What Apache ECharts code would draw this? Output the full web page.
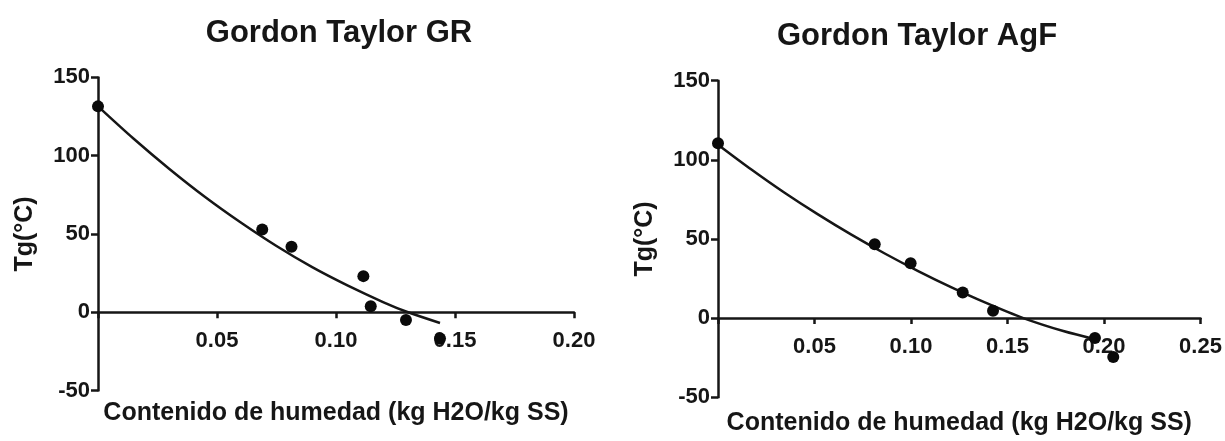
<!DOCTYPE html>
<html>
<head>
<meta charset="utf-8">
<script src="https://cdn.jsdelivr.net/npm/echarts@6/dist/echarts.min.js"></script>
<style>
html,body{margin:0;padding:0;background:#fff;}
#c{width:1225px;height:441px;}
</style>
</head>
<body>
<div id="c"></div>
<script>
// ---- data ----
var titles = ['Gordon Taylor GR', 'Gordon Taylor AgF'];
var xName = 'Contenido de humedad (kg H2O/kg SS)';
var yName = 'Tg(°C)';
var yTicks = [-50, 0, 50, 100, 150];
var xTicksGR = [0.05, 0.10, 0.15, 0.20];
var xTicksAgF = [0.05, 0.10, 0.15, 0.20, 0.25];

// Gordon Taylor GR: measured points [moisture, Tg]
var pointsGR = [[0, 131.5], [0.0690, 52.8], [0.0813, 41.9], [0.1115, 23.1], [0.1146, 3.8], [0.1294, -4.9], [0.1437, -16.8]];
// fitted curve
var curveGR = [[0, 131.5], [0.015, 110.8], [0.03, 91.5], [0.045, 73.6], [0.06, 57.3], [0.075, 42.3], [0.09, 28.8], [0.105, 17], [0.12, 6.4], [0.13, 0.2], [0.1437, -6.8]];

// Gordon Taylor AgF
var pointsAgF = [[0, 110.5], [0.0812, 46.6], [0.0998, 34.6], [0.1268, 16.1], [0.1425, 4.7], [0.1953, -12.6], [0.2048, -24.6]];
var curveAgF = [[0, 109.6], [0.0173, 93.9], [0.0345, 79.2], [0.0518, 65.5], [0.0691, 52.7], [0.0864, 40.8], [0.1037, 29.7], [0.121, 19.4], [0.1383, 9.9], [0.1582, 0], [0.1789, -8.2], [0.1962, -13.6]];

// ---- chart ----
var INK = '#161616';
var FONT = '"Liberation Sans", Arial, sans-serif';
var grids = [
  {left: 98, top: 77.4, width: 476, height: 313.2},
  {left: 718, top: 80.7, width: 482.5, height: 316.5}
];
var nameGaps = [88, 93];
var yMin = yTicks[0], yMax = yTicks[yTicks.length - 1];

function xAxis(idx, ticks) {
  // place the axis on the y = 0 line (line, ticks, labels and name together)
  var zeroOffset = -grids[idx].height * (0 - yMin) / (yMax - yMin);
  return {
    type: 'value', gridIndex: idx, position: 'bottom', offset: zeroOffset,
    min: 0, max: ticks[ticks.length - 1], interval: 0.05,
    splitLine: {show: false},
    axisLine: {onZero: false, lineStyle: {color: INK, width: 2.5}},
    axisTick: {show: true, length: 6, lineStyle: {color: INK, width: 2.5}},
    axisLabel: {
      color: INK, fontSize: 22, fontWeight: 'bold', fontFamily: FONT, margin: 18,
      formatter: function (v) { return v === 0 ? '' : v.toFixed(2); }
    },
    name: xName, nameLocation: 'middle', nameGap: nameGaps[idx],
    nameTextStyle: {color: INK, fontSize: 25, fontWeight: 'bold', fontFamily: FONT}
  };
}
function yAxis(idx) {
  return {
    type: 'value', gridIndex: idx,
    min: yMin, max: yMax, interval: 50,
    splitLine: {show: false},
    axisLine: {show: true, onZero: false, lineStyle: {color: INK, width: 2.5}},
    axisTick: {show: true, length: 7, lineStyle: {color: INK, width: 2.5}},
    axisLabel: {color: INK, fontSize: 22, fontWeight: 'bold', fontFamily: FONT, margin: 8},
    name: yName, nameLocation: 'middle', nameGap: 60, nameRotate: 90,
    nameTextStyle: {color: INK, fontSize: 25, fontWeight: 'bold', fontFamily: FONT}
  };
}

var chart = echarts.init(document.getElementById('c'), null, {renderer: 'canvas'});
chart.setOption({
  backgroundColor: '#ffffff',
  animation: false,
  title: [
    {text: titles[0], left: 334, top: 13, textAlign: 'center',
     textStyle: {color: INK, fontSize: 31, fontWeight: 'bold', fontFamily: FONT}},
    {text: titles[1], left: 912, top: 16, textAlign: 'center',
     textStyle: {color: INK, fontSize: 31, fontWeight: 'bold', fontFamily: FONT}}
  ],
  grid: grids.map(function (g) {
    return {left: g.left, top: g.top, width: g.width, height: g.height, outerBoundsMode: 'none', containLabel: false};
  }),
  xAxis: [xAxis(0, xTicksGR), xAxis(1, xTicksAgF)],
  yAxis: [yAxis(0), yAxis(1)],
  series: [
    {type: 'line', xAxisIndex: 0, yAxisIndex: 0, data: curveGR, smooth: 0.3, showSymbol: false,
     lineStyle: {color: INK, width: 2.5}, z: 3},
    {type: 'scatter', xAxisIndex: 0, yAxisIndex: 0, data: pointsGR, symbol: 'circle', symbolSize: 12,
     itemStyle: {color: '#0a0a0a', opacity: 1}, z: 4},
    {type: 'line', xAxisIndex: 1, yAxisIndex: 1, data: curveAgF, smooth: 0.3, showSymbol: false,
     lineStyle: {color: INK, width: 2.5}, z: 3},
    {type: 'scatter', xAxisIndex: 1, yAxisIndex: 1, data: pointsAgF, symbol: 'circle', symbolSize: 12,
     itemStyle: {color: '#0a0a0a', opacity: 1}, z: 4}
  ]
});
</script>
</body>
</html>
